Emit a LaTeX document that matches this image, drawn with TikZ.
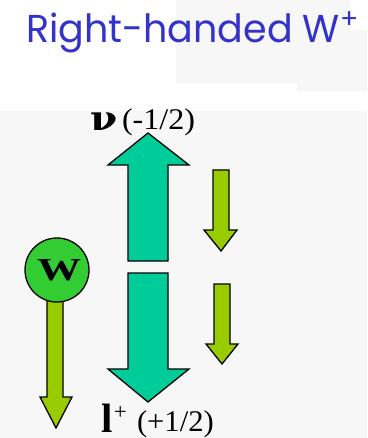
\documentclass[tikz,border=0pt]{standalone}
\usepackage{fontspec}
\setmainfont{Liberation Serif}
\newfontfamily\titlefont{Poppins}
\newfontfamily\grkfont{DejaVu Serif}
\definecolor{bggray}{HTML}{F7F7F7}
\definecolor{titleblue}{HTML}{3333CC}
\definecolor{teal}{HTML}{00CC99}
\definecolor{lime}{HTML}{99CC00}
\definecolor{wgreen}{HTML}{33CC33}
\begin{document}
\begin{tikzpicture}[x=1pt,y=-1pt,
  bigarrow/.style={fill=teal,draw=black,line width=1.3pt,line join=miter},
  smallarrow/.style={fill=lime,draw=black,line width=1.3pt,line join=miter},
  lbl/.style={inner sep=0pt,outer sep=0pt,anchor=base west}]
\useasboundingbox (0,0) rectangle (367,438);
% backgrounds
\fill[bggray] (0,111) rectangle (367,438);
\fill[bggray] (176,0) rectangle (350,83);
\fill[bggray] (297,30) rectangle (367,91);
% title
\node[lbl,text=titleblue] (title) at (26,43) {\resizebox{334pt}{31pt}{\titlefont Right-handed W\textsuperscript{+}}};
% big teal arrows
\draw[bigarrow] (148,133) -- (189,165) -- (168,165) -- (168,261) -- (128,261) -- (128,165) -- (108,165) -- cycle;
\draw[bigarrow] (128,273) -- (168,273) -- (168,369) -- (189,369) -- (148,402) -- (108,369) -- (128,369) -- cycle;
% small lime arrows
\draw[smallarrow] (213,170) -- (229,170) -- (229,230) -- (237,230) -- (221,251) -- (204,230) -- (213,230) -- cycle;
\draw[smallarrow] (214,284) -- (230,284) -- (230,344) -- (238,344) -- (222,364) -- (206,344) -- (214,344) -- cycle;
\draw[smallarrow] (47,290) -- (63,290) -- (63,397) -- (72,397) -- (56,428) -- (40,397) -- (47,397) -- cycle;
% W circle
\node[circle,fill=wgreen,draw=black,line width=1.3pt,minimum size=64pt,inner sep=0pt] (w) at (57,270) {};
\node[lbl] (wtext) at (37,280) {\resizebox{44pt}{21pt}{\bfseries W}};
% labels
\node[lbl] (nu) at (90,131) {\fontsize{34}{34}\selectfont\grkfont\bfseries\scalebox{1.15}[1]{ν}};
\node[lbl] (nuspin) at (122,130) {\fontsize{30}{30}\selectfont\scalebox{1.07}[1]{(-1/2)}};
\node[lbl] (lep) at (101,432) {\fontsize{41}{41}\selectfont\bfseries l\kern1.5pt\raisebox{13pt}{\fontsize{23}{23}\selectfont\mdseries +}};
\node[lbl] (lspin) at (137,431) {\fontsize{30}{30}\selectfont\scalebox{1.02}[1]{(+1/2)}};
\end{tikzpicture}
\end{document}
